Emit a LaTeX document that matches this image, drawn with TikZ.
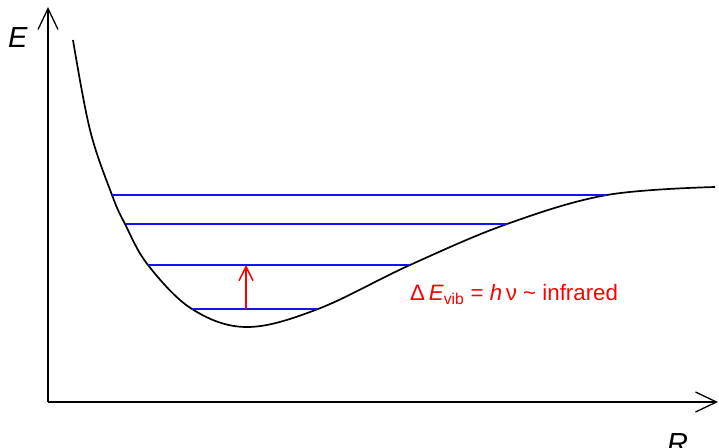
\documentclass[tikz,border=0pt]{standalone}
\usepackage{fontspec}
\setmainfont{Liberation Sans}
\usetikzlibrary{arrows.meta}
\definecolor{lvlblue}{RGB}{20,20,240}
\definecolor{trred}{RGB}{255,0,0}
\tikzset{
  axis/.style={line width=1.3pt,-{Straight Barb[length=21pt,width=20pt,line width=1.3pt]}},
  pot/.style={line width=1.7pt,black},
  level/.style={line width=1.6pt,lvlblue},
  trans/.style={line width=1.5pt,trred,-{Straight Barb[length=14pt,width=14pt,line width=1.5pt]}},
  axlabel/.style={font=\fontsize{29}{33}\selectfont\itshape,inner sep=0pt},
}
\begin{document}
\begin{tikzpicture}[x=1pt,y=-1pt]
\useasboundingbox (0,0) rectangle (719,447);
% axes
\coordinate (O) at (48,402);
\coordinate (Ytip) at (48,7);
\coordinate (Xtip) at (718,402);
\draw[axis] (O) -- (Ytip);
\draw[axis] (O) -- (Xtip);
\node[axlabel,anchor=north west] (Elab) at (8,27) {E};
\node[axlabel,anchor=north west] (Rlab) at (667,433) {R};
% potential curve
\draw[pot] plot[smooth,tension=0.6] coordinates {
  (73,40) (90,130) (112,195) (125,224) (148,265) (192,309) (247,327)
  (318,309) (410,265) (507,224) (607,195) (715,187)};
% vibrational levels
\coordinate (l1a) at (112,195); \coordinate (l1b) at (607,195);
\coordinate (l2a) at (126,224); \coordinate (l2b) at (507,224);
\coordinate (l3a) at (148,265); \coordinate (l3b) at (410,265);
\coordinate (l4a) at (192,309); \coordinate (l4b) at (318,309);
\draw[level] (l1a) -- (l1b);
\draw[level] (l2a) -- (l2b);
\draw[level] (l3a) -- (l3b);
\draw[level] (l4a) -- (l4b);
% transition
\coordinate (t0) at (246,309);
\coordinate (t1) at (246,265);
\draw[trans] (t0) -- (t1);
\node[anchor=base west,inner sep=0pt,text=trred,font=\fontsize{22.3}{26}\selectfont] (lab) at (410,300)
  {Δ\,\textit{E}\textsubscript{vib} = \textit{h}\,ν \textasciitilde{} infrared};
\end{tikzpicture}
\end{document}
